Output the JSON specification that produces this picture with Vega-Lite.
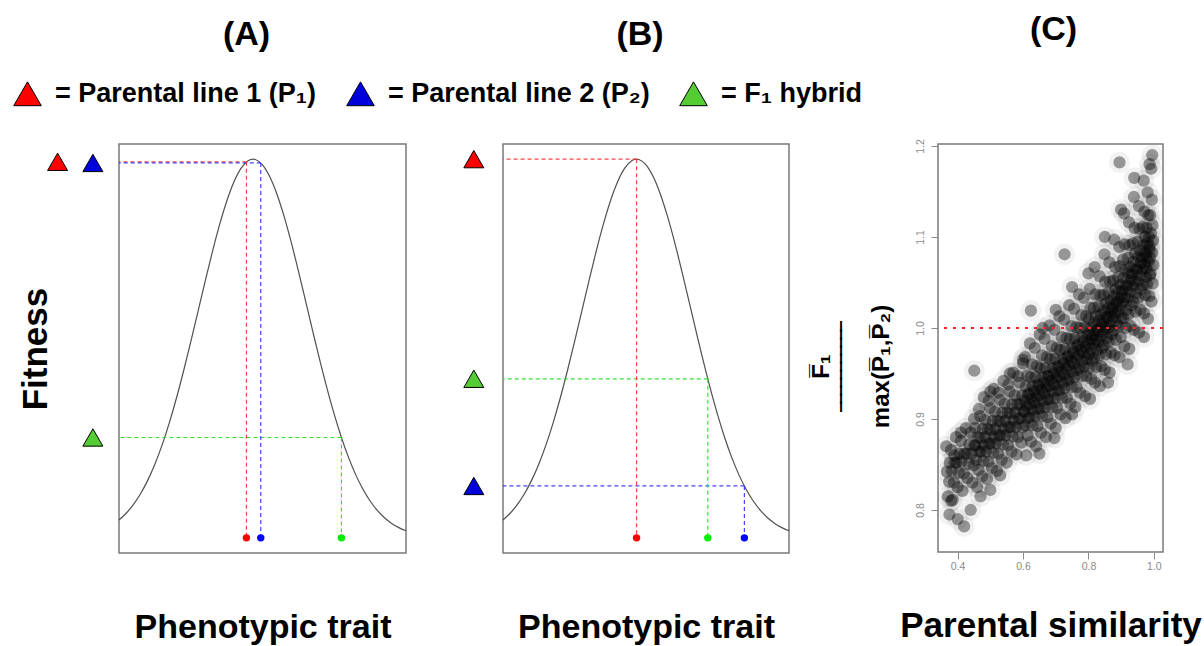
{
"$schema": "https://vega.github.io/schema/vega-lite/v6.json",
"background": "white",
"padding": {"left": 12, "top": 11, "right": 0, "bottom": 0},
"config": {
  "font": "Liberation Sans",
  "view": {"stroke": "#7a7a7a", "strokeWidth": 1.5},
  "axis": {"grid": false}
},
"datasets": {
  "curve": [
    {"x":0,"f":0.0472},{"x":2.5,"f":0.0649},{"x":5,"f":0.0877},{"x":7.5,"f":0.1164},{"x":10,"f":0.1518},{"x":12.5,"f":0.1945},{"x":15,"f":0.2449},{"x":17.5,"f":0.3031},{"x":20,"f":0.3686},{"x":22.5,"f":0.4406},{"x":25,"f":0.5173},{"x":27.5,"f":0.5969},{"x":30,"f":0.6768},{"x":32.5,"f":0.7541},{"x":35,"f":0.8256},{"x":37.5,"f":0.8883},{"x":40,"f":0.9391},{"x":42.5,"f":0.9756},{"x":45,"f":0.996},{"x":46.7,"f":1},{"x":47.5,"f":0.9991},{"x":50,"f":0.9849},{"x":52.5,"f":0.954},{"x":55,"f":0.9081},{"x":57.5,"f":0.8494},{"x":60,"f":0.7807},{"x":62.5,"f":0.7051},{"x":65,"f":0.6258},{"x":67.5,"f":0.5458},{"x":70,"f":0.4677},{"x":72.5,"f":0.3939},{"x":75,"f":0.3259},{"x":77.5,"f":0.265},{"x":80,"f":0.2118},{"x":82.5,"f":0.1663},{"x":85,"f":0.1283},{"x":87.5,"f":0.0973},{"x":90,"f":0.0725},{"x":92.5,"f":0.0531},{"x":95,"f":0.0382},{"x":97.5,"f":0.027},{"x":100,"f":0.0187}
  ],
  "markA": [
    {"line":"P1","x":44.4,"f":0.993},
    {"line":"P2","x":49.4,"f":0.99},
    {"line":"F1","x":77.5,"f":0.265}
  ],
  "markB": [
    {"line":"P1","x":46.7,"f":1.0},
    {"line":"P2","x":84.4,"f":0.137},
    {"line":"F1","x":71.6,"f":0.42}
  ],
  "ref": [{"ratio": 1.0}],
  "scatter": [
    {"x":0.370,"y":0.815},{"x":0.374,"y":0.831},{"x":0.367,"y":0.842},{"x":0.376,"y":0.852},{"x":0.365,"y":0.870},
    {"x":0.385,"y":0.811},{"x":0.389,"y":0.830},{"x":0.382,"y":0.843},{"x":0.391,"y":0.852},{"x":0.380,"y":0.866},
    {"x":0.400,"y":0.825},{"x":0.404,"y":0.841},{"x":0.397,"y":0.852},{"x":0.406,"y":0.862},{"x":0.395,"y":0.880},
    {"x":0.415,"y":0.821},{"x":0.419,"y":0.840},{"x":0.412,"y":0.853},{"x":0.421,"y":0.862},{"x":0.410,"y":0.876},
    {"x":0.430,"y":0.835},{"x":0.434,"y":0.851},{"x":0.427,"y":0.862},{"x":0.436,"y":0.872},{"x":0.425,"y":0.890},
    {"x":0.445,"y":0.830},{"x":0.449,"y":0.849},{"x":0.442,"y":0.862},{"x":0.451,"y":0.871},{"x":0.440,"y":0.885},
    {"x":0.460,"y":0.825},{"x":0.464,"y":0.844},{"x":0.457,"y":0.855},{"x":0.466,"y":0.864},{"x":0.455,"y":0.871},{"x":0.462,"y":0.880},{"x":0.454,"y":0.890},{"x":0.465,"y":0.911},
    {"x":0.475,"y":0.837},{"x":0.479,"y":0.854},{"x":0.472,"y":0.864},{"x":0.481,"y":0.871},{"x":0.470,"y":0.879},{"x":0.477,"y":0.889},{"x":0.469,"y":0.903},{"x":0.480,"y":0.924},
    {"x":0.490,"y":0.834},{"x":0.494,"y":0.853},{"x":0.487,"y":0.864},{"x":0.496,"y":0.873},{"x":0.485,"y":0.880},{"x":0.492,"y":0.889},{"x":0.484,"y":0.899},{"x":0.495,"y":0.920},
    {"x":0.505,"y":0.846},{"x":0.509,"y":0.863},{"x":0.502,"y":0.873},{"x":0.511,"y":0.880},{"x":0.500,"y":0.888},{"x":0.507,"y":0.898},{"x":0.499,"y":0.912},{"x":0.510,"y":0.933},
    {"x":0.520,"y":0.843},{"x":0.524,"y":0.862},{"x":0.517,"y":0.873},{"x":0.526,"y":0.882},{"x":0.515,"y":0.889},{"x":0.522,"y":0.898},{"x":0.514,"y":0.908},{"x":0.525,"y":0.929},
    {"x":0.535,"y":0.855},{"x":0.539,"y":0.872},{"x":0.532,"y":0.882},{"x":0.541,"y":0.889},{"x":0.530,"y":0.897},{"x":0.537,"y":0.907},{"x":0.529,"y":0.921},{"x":0.540,"y":0.942},
    {"x":0.550,"y":0.852},{"x":0.554,"y":0.871},{"x":0.547,"y":0.882},{"x":0.556,"y":0.891},{"x":0.545,"y":0.898},{"x":0.552,"y":0.907},{"x":0.544,"y":0.917},{"x":0.555,"y":0.938},
    {"x":0.565,"y":0.864},{"x":0.569,"y":0.881},{"x":0.562,"y":0.891},{"x":0.571,"y":0.898},{"x":0.560,"y":0.906},{"x":0.567,"y":0.916},{"x":0.559,"y":0.930},{"x":0.570,"y":0.951},
    {"x":0.580,"y":0.861},{"x":0.584,"y":0.880},{"x":0.577,"y":0.891},{"x":0.586,"y":0.900},{"x":0.575,"y":0.907},{"x":0.582,"y":0.916},{"x":0.574,"y":0.926},{"x":0.585,"y":0.947},
    {"x":0.595,"y":0.874},{"x":0.599,"y":0.891},{"x":0.592,"y":0.901},{"x":0.601,"y":0.908},{"x":0.590,"y":0.916},{"x":0.597,"y":0.926},{"x":0.589,"y":0.940},{"x":0.600,"y":0.961},
    {"x":0.610,"y":0.860},{"x":0.614,"y":0.882},{"x":0.607,"y":0.893},{"x":0.616,"y":0.901},{"x":0.605,"y":0.908},{"x":0.612,"y":0.914},{"x":0.604,"y":0.920},{"x":0.615,"y":0.927},{"x":0.608,"y":0.936},{"x":0.613,"y":0.948},{"x":0.606,"y":0.968},
    {"x":0.625,"y":0.875},{"x":0.629,"y":0.893},{"x":0.622,"y":0.902},{"x":0.631,"y":0.910},{"x":0.620,"y":0.916},{"x":0.627,"y":0.922},{"x":0.619,"y":0.928},{"x":0.630,"y":0.936},{"x":0.623,"y":0.946},{"x":0.628,"y":0.960},{"x":0.621,"y":0.983},
    {"x":0.640,"y":0.870},{"x":0.644,"y":0.892},{"x":0.637,"y":0.903},{"x":0.646,"y":0.911},{"x":0.635,"y":0.918},{"x":0.642,"y":0.924},{"x":0.634,"y":0.930},{"x":0.645,"y":0.937},{"x":0.638,"y":0.946},{"x":0.643,"y":0.958},{"x":0.636,"y":0.978},
    {"x":0.655,"y":0.885},{"x":0.659,"y":0.903},{"x":0.652,"y":0.912},{"x":0.661,"y":0.920},{"x":0.650,"y":0.926},{"x":0.657,"y":0.932},{"x":0.649,"y":0.938},{"x":0.660,"y":0.946},{"x":0.653,"y":0.956},{"x":0.658,"y":0.970},{"x":0.651,"y":0.993},
    {"x":0.670,"y":0.880},{"x":0.674,"y":0.902},{"x":0.667,"y":0.913},{"x":0.676,"y":0.921},{"x":0.665,"y":0.928},{"x":0.672,"y":0.934},{"x":0.664,"y":0.940},{"x":0.675,"y":0.947},{"x":0.668,"y":0.956},{"x":0.673,"y":0.968},{"x":0.666,"y":0.988},
    {"x":0.685,"y":0.895},{"x":0.689,"y":0.913},{"x":0.682,"y":0.922},{"x":0.691,"y":0.930},{"x":0.680,"y":0.936},{"x":0.687,"y":0.942},{"x":0.679,"y":0.948},{"x":0.690,"y":0.956},{"x":0.683,"y":0.966},{"x":0.688,"y":0.980},{"x":0.681,"y":1.003},
    {"x":0.700,"y":0.890},{"x":0.704,"y":0.912},{"x":0.697,"y":0.923},{"x":0.706,"y":0.931},{"x":0.695,"y":0.938},{"x":0.702,"y":0.944},{"x":0.694,"y":0.950},{"x":0.705,"y":0.957},{"x":0.698,"y":0.966},{"x":0.703,"y":0.978},{"x":0.696,"y":0.998},
    {"x":0.715,"y":0.905},{"x":0.719,"y":0.923},{"x":0.712,"y":0.932},{"x":0.721,"y":0.940},{"x":0.710,"y":0.946},{"x":0.717,"y":0.952},{"x":0.709,"y":0.958},{"x":0.720,"y":0.966},{"x":0.713,"y":0.976},{"x":0.718,"y":0.990},{"x":0.711,"y":1.013},
    {"x":0.730,"y":0.901},{"x":0.734,"y":0.923},{"x":0.727,"y":0.934},{"x":0.736,"y":0.942},{"x":0.725,"y":0.949},{"x":0.732,"y":0.955},{"x":0.724,"y":0.961},{"x":0.735,"y":0.968},{"x":0.728,"y":0.977},{"x":0.733,"y":0.989},{"x":0.726,"y":1.009},
    {"x":0.745,"y":0.917},{"x":0.749,"y":0.935},{"x":0.742,"y":0.944},{"x":0.751,"y":0.952},{"x":0.740,"y":0.958},{"x":0.747,"y":0.964},{"x":0.739,"y":0.970},{"x":0.750,"y":0.978},{"x":0.743,"y":0.988},{"x":0.748,"y":1.002},{"x":0.741,"y":1.025},
    {"x":0.760,"y":0.913},{"x":0.764,"y":0.935},{"x":0.757,"y":0.946},{"x":0.766,"y":0.954},{"x":0.755,"y":0.961},{"x":0.762,"y":0.967},{"x":0.754,"y":0.973},{"x":0.765,"y":0.980},{"x":0.758,"y":0.989},{"x":0.763,"y":1.001},{"x":0.756,"y":1.021},
    {"x":0.775,"y":0.929},{"x":0.779,"y":0.947},{"x":0.772,"y":0.956},{"x":0.781,"y":0.964},{"x":0.770,"y":0.970},{"x":0.777,"y":0.976},{"x":0.769,"y":0.982},{"x":0.780,"y":0.990},{"x":0.773,"y":1.000},{"x":0.778,"y":1.014},{"x":0.771,"y":1.037},
    {"x":0.790,"y":0.925},{"x":0.794,"y":0.947},{"x":0.787,"y":0.958},{"x":0.796,"y":0.966},{"x":0.785,"y":0.973},{"x":0.792,"y":0.979},{"x":0.784,"y":0.985},{"x":0.795,"y":0.992},{"x":0.788,"y":1.001},{"x":0.793,"y":1.013},{"x":0.786,"y":1.033},
    {"x":0.805,"y":0.922},{"x":0.809,"y":0.944},{"x":0.802,"y":0.956},{"x":0.811,"y":0.964},{"x":0.800,"y":0.971},{"x":0.807,"y":0.977},{"x":0.799,"y":0.983},{"x":0.810,"y":0.988},{"x":0.803,"y":0.994},{"x":0.808,"y":1.001},{"x":0.801,"y":1.010},{"x":0.806,"y":1.022},{"x":0.804,"y":1.043},
    {"x":0.820,"y":0.940},{"x":0.824,"y":0.957},{"x":0.817,"y":0.967},{"x":0.826,"y":0.975},{"x":0.815,"y":0.982},{"x":0.822,"y":0.987},{"x":0.814,"y":0.992},{"x":0.825,"y":0.998},{"x":0.818,"y":1.005},{"x":0.823,"y":1.013},{"x":0.816,"y":1.022},{"x":0.821,"y":1.037},{"x":0.819,"y":1.067},
    {"x":0.835,"y":0.936},{"x":0.839,"y":0.958},{"x":0.832,"y":0.970},{"x":0.841,"y":0.978},{"x":0.830,"y":0.985},{"x":0.837,"y":0.991},{"x":0.829,"y":0.997},{"x":0.840,"y":1.002},{"x":0.833,"y":1.008},{"x":0.838,"y":1.015},{"x":0.831,"y":1.024},{"x":0.836,"y":1.036},{"x":0.834,"y":1.057},
    {"x":0.850,"y":0.954},{"x":0.854,"y":0.971},{"x":0.847,"y":0.981},{"x":0.856,"y":0.989},{"x":0.845,"y":0.996},{"x":0.852,"y":1.001},{"x":0.844,"y":1.006},{"x":0.855,"y":1.012},{"x":0.848,"y":1.019},{"x":0.853,"y":1.027},{"x":0.846,"y":1.036},{"x":0.851,"y":1.051},{"x":0.849,"y":1.081},
    {"x":0.865,"y":0.951},{"x":0.869,"y":0.973},{"x":0.862,"y":0.985},{"x":0.871,"y":0.993},{"x":0.860,"y":1.000},{"x":0.867,"y":1.006},{"x":0.859,"y":1.012},{"x":0.870,"y":1.017},{"x":0.863,"y":1.023},{"x":0.868,"y":1.030},{"x":0.861,"y":1.039},{"x":0.866,"y":1.051},{"x":0.864,"y":1.072},
    {"x":0.880,"y":0.970},{"x":0.884,"y":0.987},{"x":0.877,"y":0.997},{"x":0.886,"y":1.005},{"x":0.875,"y":1.012},{"x":0.882,"y":1.017},{"x":0.874,"y":1.022},{"x":0.885,"y":1.028},{"x":0.878,"y":1.035},{"x":0.883,"y":1.043},{"x":0.876,"y":1.052},{"x":0.881,"y":1.067},{"x":0.879,"y":1.097},
    {"x":0.895,"y":0.968},{"x":0.899,"y":0.990},{"x":0.892,"y":1.002},{"x":0.901,"y":1.010},{"x":0.890,"y":1.017},{"x":0.897,"y":1.023},{"x":0.889,"y":1.029},{"x":0.900,"y":1.034},{"x":0.893,"y":1.040},{"x":0.898,"y":1.047},{"x":0.891,"y":1.056},{"x":0.896,"y":1.068},{"x":0.894,"y":1.089},
    {"x":0.910,"y":0.980},{"x":0.914,"y":1.000},{"x":0.907,"y":1.011},{"x":0.916,"y":1.020},{"x":0.905,"y":1.028},{"x":0.912,"y":1.034},{"x":0.904,"y":1.041},{"x":0.915,"y":1.047},{"x":0.908,"y":1.055},{"x":0.913,"y":1.064},{"x":0.906,"y":1.075},{"x":0.911,"y":1.092},{"x":0.909,"y":1.126},
    {"x":0.925,"y":0.977},{"x":0.929,"y":1.002},{"x":0.922,"y":1.015},{"x":0.931,"y":1.025},{"x":0.920,"y":1.033},{"x":0.927,"y":1.040},{"x":0.919,"y":1.046},{"x":0.930,"y":1.053},{"x":0.923,"y":1.060},{"x":0.928,"y":1.067},{"x":0.921,"y":1.077},{"x":0.926,"y":1.091},{"x":0.924,"y":1.116},
    {"x":0.940,"y":0.998},{"x":0.944,"y":1.018},{"x":0.937,"y":1.029},{"x":0.946,"y":1.038},{"x":0.935,"y":1.046},{"x":0.942,"y":1.052},{"x":0.934,"y":1.059},{"x":0.945,"y":1.065},{"x":0.938,"y":1.073},{"x":0.943,"y":1.082},{"x":0.936,"y":1.093},{"x":0.941,"y":1.110},{"x":0.939,"y":1.144},
    {"x":0.955,"y":0.995},{"x":0.959,"y":1.020},{"x":0.952,"y":1.033},{"x":0.961,"y":1.043},{"x":0.950,"y":1.051},{"x":0.957,"y":1.058},{"x":0.949,"y":1.064},{"x":0.960,"y":1.071},{"x":0.953,"y":1.078},{"x":0.958,"y":1.085},{"x":0.951,"y":1.095},{"x":0.956,"y":1.109},{"x":0.954,"y":1.134},
    {"x":0.970,"y":1.016},{"x":0.974,"y":1.036},{"x":0.967,"y":1.047},{"x":0.976,"y":1.056},{"x":0.965,"y":1.064},{"x":0.972,"y":1.070},{"x":0.964,"y":1.077},{"x":0.975,"y":1.083},{"x":0.968,"y":1.091},{"x":0.973,"y":1.100},{"x":0.966,"y":1.111},{"x":0.971,"y":1.128},{"x":0.969,"y":1.162},
    {"x":0.982,"y":1.010},{"x":0.986,"y":1.035},{"x":0.979,"y":1.048},{"x":0.988,"y":1.058},{"x":0.977,"y":1.066},{"x":0.984,"y":1.073},{"x":0.976,"y":1.079},{"x":0.987,"y":1.086},{"x":0.980,"y":1.093},{"x":0.985,"y":1.100},{"x":0.978,"y":1.110},{"x":0.983,"y":1.124},{"x":0.981,"y":1.149},
    {"x":0.993,"y":1.029},{"x":0.997,"y":1.049},{"x":0.990,"y":1.060},{"x":0.999,"y":1.069},{"x":0.988,"y":1.077},{"x":0.995,"y":1.083},{"x":0.987,"y":1.090},{"x":0.998,"y":1.096},{"x":0.991,"y":1.104},{"x":0.996,"y":1.113},{"x":0.989,"y":1.124},{"x":0.994,"y":1.141},{"x":0.992,"y":1.175},
    {"x":0.727,"y":1.081},{"x":0.624,"y":1.019},{"x":0.451,"y":0.953},{"x":0.420,"y":0.782},{"x":0.895,"y":1.182},{"x":0.987,"y":1.180},{"x":0.380,"y":0.810},{"x":0.696,"y":0.879},{"x":0.375,"y":0.795},{"x":0.400,"y":0.790},{"x":0.440,"y":0.800},{"x":0.470,"y":0.815},{"x":0.500,"y":0.822},{"x":0.530,"y":0.838},{"x":0.560,"y":0.950},{"x":0.660,"y":1.000},{"x":0.700,"y":1.020},{"x":0.750,"y":1.045},{"x":0.800,"y":1.060},{"x":0.850,"y":1.100},{"x":0.900,"y":1.130},{"x":0.940,"y":1.165},{"x":0.995,"y":1.190},{"x":0.600,"y":0.965},{"x":0.650,"y":0.862},{"x":0.750,"y":0.905},{"x":0.860,"y":0.940},{"x":0.920,"y":0.960},{"x":0.970,"y":0.990},{"x":0.500,"y":0.930},{"x":0.450,"y":0.900},{"x":0.410,"y":0.885},{"x":0.390,"y":0.860}
  ]
},
"resolve": {"scale": {"color": "independent"}, "legend": {"color": "independent"}},
"bounds": "flush",
"spacing": 0,
"hconcat": [
  {
    "width": 287, "height": 409,
    "title": {"text": "(A)", "fontSize": 34, "fontWeight": "bold", "baseline": "alphabetic", "offset": 0, "frame": "group", "dx": -16, "color": "black"},
    "layer": [
      {"data": {"name": "curve"},
       "mark": {"type": "line", "color": "#505050", "strokeWidth": 1.2, "interpolate": "monotone"},
       "encoding": {
         "x": {"field": "x", "type": "quantitative", "scale": {"domain": [0, 100], "nice": false, "zero": false},
               "axis": {"labels": false, "ticks": false, "domain": false, "title": "Phenotypic trait", "titleFontSize": 34, "titleFontWeight": "bold", "titleColor": "black", "titlePadding": 57}},
         "y": {"field": "f", "type": "quantitative", "scale": {"domain": [-0.04, 1.04], "nice": false, "zero": false},
               "axis": {"labels": false, "ticks": false, "domain": false, "title": "Fitness", "titleFontSize": 35, "titleFontWeight": "bold", "titleColor": "black", "titlePadding": 66}}
       }},
      {"data": {"name": "markA"},
       "mark": {"type": "rule", "strokeDash": [4, 3], "strokeWidth": 1.2, "opacity": 0.9},
       "encoding": {
         "x": {"field": "x", "type": "quantitative"}, "x2": {"datum": 0},
         "y": {"field": "f", "type": "quantitative"},
         "stroke": {"field": "line", "type": "nominal", "scale": {"domain": ["P1", "P2", "F1"], "range": ["#ff3030", "#3030ff", "#22dd22"]}, "legend": null}
       }},
      {"data": {"name": "markA"},
       "mark": {"type": "rule", "strokeDash": [4, 3], "strokeWidth": 1.2, "opacity": 0.9},
       "encoding": {
         "x": {"field": "x", "type": "quantitative"},
         "y": {"field": "f", "type": "quantitative"}, "y2": {"datum": 0},
         "stroke": {"field": "line", "type": "nominal", "scale": {"domain": ["P1", "P2", "F1"], "range": ["#ff3030", "#3030ff", "#22dd22"]}, "legend": null}
       }},
      {"data": {"name": "markA"},
       "mark": {"type": "circle", "size": 55, "opacity": 1},
       "encoding": {
         "x": {"field": "x", "type": "quantitative"},
         "y": {"datum": 0, "type": "quantitative"},
         "fill": {"field": "line", "type": "nominal", "scale": {"domain": ["P1", "P2", "F1"], "range": ["#ff0000", "#0000ff", "#00ee00"]}, "legend": null}
       }},
      {"data": {"name": "markA"},
       "transform": [{"filter": "datum.line != 'P1'"}],
       "mark": {"type": "point", "shape": "triangle-up", "filled": true, "size": 400, "stroke": "black", "strokeWidth": 1, "opacity": 1},
       "encoding": {
         "x": {"datum": -9.1, "type": "quantitative"},
         "y": {"field": "f", "type": "quantitative"},
         "color": {"field": "line", "type": "nominal", "scale": {"domain": ["P1", "P2", "F1"], "range": ["#ff0000", "#0000dd", "#55cc33"]},
                   "legend": {"orient": "none", "legendX": -106, "legendY": -65, "direction": "horizontal", "title": null, "symbolType": "triangle-up", "symbolSize": 760, "symbolStrokeColor": "black", "symbolStrokeWidth": 1, "symbolOpacity": 1, "labelFontSize": 27, "labelFontWeight": "bold", "labelColor": "black", "labelOffset": 13, "columnPadding": 27, "labelLimit": 600,
                              "labelExpr": "datum.label == 'P1' ? '= Parental line 1 (P\u2081)' : datum.label == 'P2' ? '= Parental line 2 (P\u2082)' : '= F\u2081 hybrid'"}}
       }},
      {"data": {"name": "markA"},
       "transform": [{"filter": "datum.line == 'P1'"}],
       "mark": {"type": "point", "shape": "triangle-up", "filled": true, "size": 400, "stroke": "black", "strokeWidth": 1, "opacity": 1},
       "encoding": {
         "x": {"datum": -21.4, "type": "quantitative"},
         "y": {"field": "f", "type": "quantitative"},
         "color": {"field": "line", "type": "nominal"}
       }}
    ]
  },
  {
    "width": 97, "height": 409,
    "view": {"stroke": null},
    "data": {"values": [{"x": 0, "y": 0}]},
    "mark": {"type": "point", "opacity": 0},
    "encoding": {"x": {"field": "x", "type": "quantitative", "axis": null}, "y": {"field": "y", "type": "quantitative", "axis": null}}
  },
  {
    "width": 286, "height": 409,
    "title": {"text": "(B)", "fontSize": 34, "fontWeight": "bold", "baseline": "alphabetic", "offset": 65, "frame": "group", "dx": -6, "color": "black"},
    "layer": [
      {"data": {"name": "curve"},
       "mark": {"type": "line", "color": "#505050", "strokeWidth": 1.2, "interpolate": "monotone"},
       "encoding": {
         "x": {"field": "x", "type": "quantitative", "scale": {"domain": [0, 100], "nice": false, "zero": false},
               "axis": {"labels": false, "ticks": false, "domain": false, "title": "Phenotypic trait", "titleFontSize": 34, "titleFontWeight": "bold", "titleColor": "black", "titlePadding": 57}},
         "y": {"field": "f", "type": "quantitative", "scale": {"domain": [-0.04, 1.04], "nice": false, "zero": false}, "axis": null}
       }},
      {"data": {"name": "markB"},
       "mark": {"type": "rule", "strokeDash": [4, 3], "strokeWidth": 1.2, "opacity": 0.9},
       "encoding": {
         "x": {"field": "x", "type": "quantitative"}, "x2": {"datum": 0},
         "y": {"field": "f", "type": "quantitative"},
         "stroke": {"field": "line", "type": "nominal", "scale": {"domain": ["P1", "P2", "F1"], "range": ["#ff3030", "#3030ff", "#22dd22"]}, "legend": null}
       }},
      {"data": {"name": "markB"},
       "mark": {"type": "rule", "strokeDash": [4, 3], "strokeWidth": 1.2, "opacity": 0.9},
       "encoding": {
         "x": {"field": "x", "type": "quantitative"},
         "y": {"field": "f", "type": "quantitative"}, "y2": {"datum": 0},
         "stroke": {"field": "line", "type": "nominal", "scale": {"domain": ["P1", "P2", "F1"], "range": ["#ff3030", "#3030ff", "#22dd22"]}, "legend": null}
       }},
      {"data": {"name": "markB"},
       "mark": {"type": "circle", "size": 55, "opacity": 1},
       "encoding": {
         "x": {"field": "x", "type": "quantitative"},
         "y": {"datum": 0, "type": "quantitative"},
         "fill": {"field": "line", "type": "nominal", "scale": {"domain": ["P1", "P2", "F1"], "range": ["#ff0000", "#0000ff", "#00ee00"]}, "legend": null}
       }},
      {"data": {"name": "markB"},
       "mark": {"type": "point", "shape": "triangle-up", "filled": true, "size": 400, "stroke": "black", "strokeWidth": 1, "opacity": 1},
       "encoding": {
         "x": {"datum": -10.2, "type": "quantitative"},
         "y": {"field": "f", "type": "quantitative"},
         "color": {"field": "line", "type": "nominal", "scale": {"domain": ["P1", "P2", "F1"], "range": ["#ff0000", "#0000dd", "#55cc33"]}, "legend": null}
       }}
    ]
  },
  {
    "width": 149, "height": 409,
    "view": {"stroke": null},
    "data": {"values": [{"x": 0, "y": 0}]},
    "mark": {"type": "point", "opacity": 0},
    "encoding": {"x": {"field": "x", "type": "quantitative", "axis": null}, "y": {"field": "y", "type": "quantitative", "axis": null}}
  },
  {
    "width": 225, "height": 408,
    "title": {"text": "(C)", "fontSize": 34, "fontWeight": "bold", "baseline": "alphabetic", "offset": 65, "frame": "group", "dx": 3, "color": "black"},
    "layer": [
      {"data": {"name": "scatter"},
       "mark": {"type": "circle", "size": 450, "opacity": 0.05, "color": "black", "clip": true},
       "encoding": {
         "x": {"field": "x", "type": "quantitative", "scale": {"domain": [0.34, 1.028], "nice": false, "zero": false},
               "axis": {"values": [0.4, 0.5, 0.6, 0.7, 0.8, 0.9, 1.0], "format": ".1f", "labelFontSize": 10.5, "labelColor": "#8a8a8a", "labelFlush": false, "tickColor": "#8a8a8a", "tickSize": 7, "labelPadding": 2, "domain": false,
                        "title": "Parental similarity", "titleFontSize": 35, "titleFontWeight": "bold", "titleColor": "black", "titlePadding": 37}},
         "y": {"field": "y", "type": "quantitative", "scale": {"domain": [0.7538, 1.2022], "nice": false, "zero": false},
               "axis": {"values": [0.8, 0.9, 1.0, 1.1, 1.2], "format": ".1f", "labelAngle": 270, "labelAlign": "center", "labelBaseline": "bottom", "labelFontSize": 10.5, "labelColor": "#8a8a8a", "tickColor": "#8a8a8a", "tickSize": 7, "labelPadding": 6, "domain": false,
                        "title": ["F\u0305\u2081", "\u203e\u203e\u203e\u203e\u203e\u203e\u203e\u203e\u203e\u203e\u203e", "max(P\u0305\u2081,P\u0305\u2082)"], "titleFontSize": 24, "titleFontWeight": "bold", "titleColor": "black", "titleLineHeight": 30, "titlePadding": 22, "titleY": 222}}
       }},
      {"data": {"name": "scatter"},
       "mark": {"type": "circle", "size": 150, "opacity": 0.38, "color": "black", "clip": true},
       "encoding": {
         "x": {"field": "x", "type": "quantitative"},
         "y": {"field": "y", "type": "quantitative"}
       }},
      {"data": {"name": "ref"},
       "mark": {"type": "rule", "color": "#ff2020", "strokeWidth": 2, "strokeDash": [3, 6]},
       "encoding": {"y": {"field": "ratio", "type": "quantitative"}}
      }
    ]
  }
]
}
